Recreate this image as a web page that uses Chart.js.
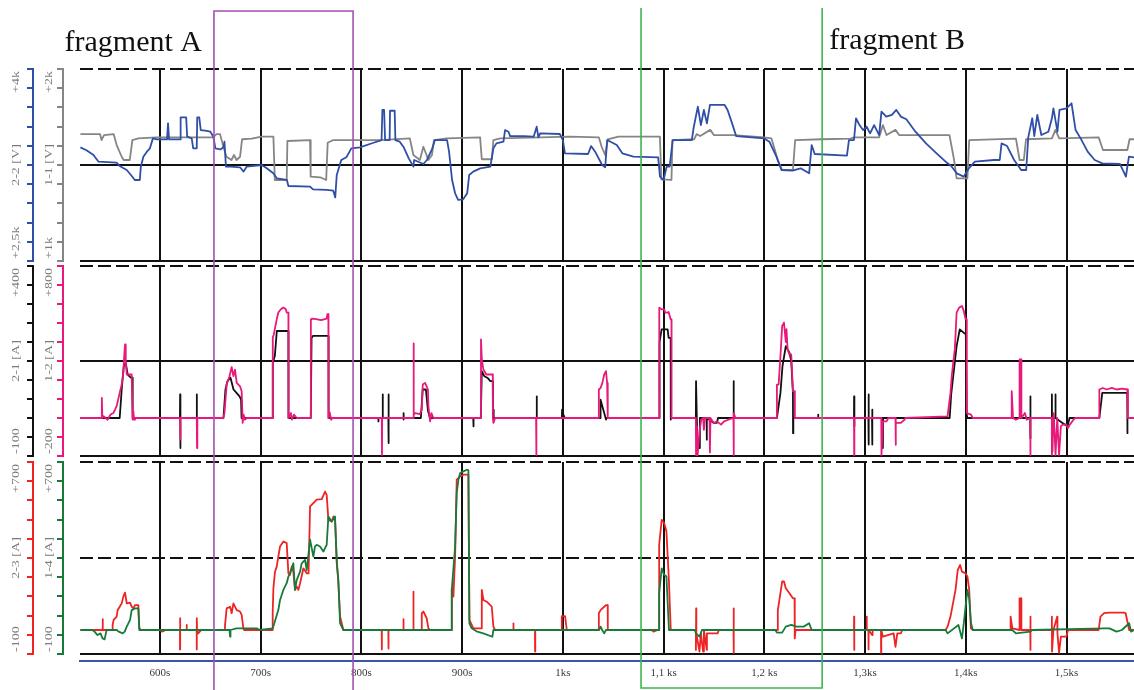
<!DOCTYPE html>
<html lang="en">
<head>
<meta charset="UTF-8">
<title>Fragments A and B</title>
<script src="https://cdn.jsdelivr.net/npm/chart.js@4"></script>
<style>
  body { margin: 0; background: #fff; }
  #wrap { position: relative; width: 1134px; height: 690px; overflow: hidden; }
  canvas { position: absolute; left: 0; }
  #top { top: 64px; }
  #mid { top: 261px; }
  #bot { top: 457px; }
  #over { top: 0; pointer-events: none; }
</style>
</head>
<body>
<div id="wrap">
  <canvas id="top" width="1134" height="202"></canvas>
  <canvas id="mid" width="1134" height="200"></canvas>
  <canvas id="bot" width="1134" height="233"></canvas>
  <canvas id="over" width="1134" height="690"></canvas>
</div>
<script>
// time axis (seconds)
const T_MIN = 520.6, T_MAX = 1567;
const xTicks = [600, 700, 800, 900, 1000, 1100, 1200, 1300, 1400, 1500];
const xLabels = ['600s', '700s', '800s', '900s', '1ks', '1,1 ks', '1,2 ks', '1,3ks', '1,4ks', '1,5ks'];
const fragA = [653.6, 791.7];
const fragB = [1077.6, 1257.4];

// y axis labels [bottom, name, top]
const axisText = {
  top: { yOut: ['+2,5k', '2-2 [V]', '+4k'], yIn: ['+1k', '1-1 [V]', '+2k'] },
  mid: { yOut: ['-100', '2-1 [A]', '+400'], yIn: ['-200', '1-2 [A]', '+800'] },
  bot: { yOut: ['-100', '2-3 [A]', '+700'], yIn: ['-100', '1-4 [A]', '+700'] }
};

// panel 1: 2-2 [V] (blue) and 1-1 [V] (gray)
const blue = [[521,3388],[527,3365],[534,3328],[539,3276],[557,3268],[560,3242],[567,3211],[572,3164],[575,3133],[580,3133],[581,3237],[583.5,3315],[587,3354],[590,3380],[593,3458],[597,3450],[607,3450],[608,3575],[609,3450],[620,3450],[620.5,3622],[626,3622],[627,3471],[631.5,3458],[633,3380],[636.5,3380],[637,3622],[639,3622],[640.5,3523],[645,3518],[650,3510],[653,3471],[655,3380],[660,3372],[663,3388],[664,3432],[665.5,3237],[670,3237],[679.5,3232],[683,3198],[686,3237],[701,3250],[706,3224],[712.5,3185],[716,3146],[726,3133],[727.5,3086],[749,3081],[752,3060],[765.5,3055],[772,3049],[774,2997],[775.5,3172],[780,3289],[785,3310],[790,3380],[798.5,3388],[812,3424],[820,3445],[820.8,3680],[822.5,3680],[823.5,3445],[828,3445],[828.4,3674],[833,3674],[833.7,3445],[838,3432],[842,3388],[847,3302],[851.6,3237],[852.3,3289],[861.5,3258],[865,3289],[870,3372],[873,3445],[885,3445],[887,3354],[890,3133],[893,3029],[896,2977],[901,2982],[905,3029],[907,3172],[911,3198],[918,3224],[928,3237],[931,3380],[934,3419],[941,3432],[942.6,3523],[946,3510],[947.6,3476],[961,3476],[971,3471],[974,3549],[975.7,3466],[977.4,3497],[997,3492],[1000,3445],[1002,3341],[1025,3336],[1028,3398],[1032,3354],[1039,3250],[1042,3232],[1044,3445],[1053.5,3406],[1059,3341],[1070,3315],[1094.6,3310],[1096.4,3159],[1100,3133],[1103,3237],[1106,3237],[1109,3445],[1128,3445],[1130,3549],[1134,3706],[1137,3562],[1140,3680],[1143,3575],[1146,3719],[1160.6,3719],[1163.5,3680],[1168,3575],[1172,3476],[1200,3458],[1205,3432],[1212,3315],[1217,3211],[1228,3206],[1236,3224],[1244.5,3185],[1247,3406],[1250,3336],[1282,3323],[1284,3445],[1289,3445],[1291,3615],[1294.5,3562],[1298,3523],[1301.6,3549],[1305,3497],[1309,3562],[1314,3484],[1316.3,3667],[1321,3628],[1326.6,3641],[1331,3680],[1335.5,3628],[1341,3607],[1350,3510],[1360.5,3419],[1371,3341],[1380,3276],[1385.5,3242],[1391,3185],[1398,3159],[1403,3224],[1409,3276],[1428,3289],[1433.7,3289],[1435.5,3419],[1441,3398],[1448,3289],[1455,3211],[1460,3211],[1462,3466],[1466,3615],[1468,3476],[1471,3641],[1475,3484],[1482,3510],[1485.5,3615],[1487,3693],[1491,3510],[1493,3680],[1500,3693],[1505,3732],[1509,3523],[1514,3458],[1521,3354],[1528,3289],[1535.5,3263],[1553,3258],[1559,3159],[1560.4,3237],[1562,3315],[1567,3310]];
const gray = [[521,1661],[540.5,1661],[542,1630],[544.5,1656],[554,1661],[557,1604],[562,1543],[564,1526],[570,1526],[572.6,1630],[578.5,1639],[596.7,1644],[653,1644],[656,1661],[659.6,1661],[663,1595],[666,1543],[671,1526],[673.5,1552],[676,1526],[679.5,1543],[681.5,1634],[691,1637],[701,1648],[712.6,1648],[714,1422],[725.8,1422],[726.5,1625],[749,1630],[749.6,1439],[759,1436],[765,1422],[766.5,1616],[772,1630],[818.5,1630],[848,1639],[851.6,1552],[858,1526],[861.5,1595],[866.5,1526],[870,1552],[872,1630],[884.7,1639],[917.8,1644],[919.5,1530],[929.5,1530],[931,1630],[937.8,1639],[1007,1648],[1035.7,1644],[1038.5,1595],[1042,1552],[1044.6,1634],[1055,1648],[1096.3,1648],[1097.8,1425],[1107.8,1422],[1108.8,1630],[1130.3,1634],[1132.8,1661],[1136.3,1651],[1146.3,1683],[1149.9,1656],[1169.5,1656],[1199.9,1644],[1207,1639],[1213.4,1526],[1217.7,1474],[1228.4,1474],[1230.6,1630],[1257,1634],[1285.6,1637],[1289,1644],[1314,1644],[1317.7,1708],[1321.3,1656],[1330.2,1683],[1333.8,1656],[1383.8,1656],[1388.4,1526],[1390.9,1430],[1401.6,1430],[1403.4,1630],[1449.8,1637],[1453.4,1526],[1457.6,1526],[1459.8,1634],[1485.5,1639],[1489,1683],[1492.7,1639],[1531.9,1644],[1536.2,1578],[1560.4,1578],[1562.6,1634],[1567,1634]];

// panel 2: 1-2 [A] (pink) and 2-1 [A] (black)
const pink = [[521,0],[542,0],[542.3,106],[542.8,0],[544,9],[548,-9],[551,18],[553.7,26],[557,62],[560,132],[562,176],[563.6,238],[564.5,326],[565.3,387],[566,300],[567,229],[571.9,229],[572.9,-9],[573.6,35],[574.3,-9],[575.2,0],[619.9,0],[620.2,-114],[620.5,0],[636.5,0],[636.8,-158],[637.1,0],[662.9,0],[664,26],[666.2,176],[669,220],[671.2,268],[672.9,220],[674.5,255],[676.2,185],[679.5,167],[681.1,141],[682.1,-26],[683,18],[684.4,-9],[686.1,0],[711.9,0],[712,423],[713,440],[715.9,519],[717.5,555],[720,572],[722.5,581],[725,572],[725.8,555],[727.5,555],[727.6,0],[730,26],[731,-9],[733,18],[735.8,0],[749.7,0],[749.8,519],[751,523],[755,520],[760,515],[765.5,523],[766.2,546],[767.2,546],[767.3,0],[768.5,30],[770,-10],[771,0],[820.2,0],[820.4,-195],[820.6,0],[851.6,0],[851.8,393],[852,18],[853.3,26],[858,20],[859.9,44],[860.9,176],[863.2,185],[866,150],[866.5,62],[868.2,-18],[869.5,26],[871.5,0],[918.5,0],[918.7,414],[919.5,308],[921.1,255],[924,229],[930.4,229],[930.5,0],[931,-26],[932.7,0],[973.4,0],[973.6,-195],[973.8,0],[1035.5,0],[1035.7,150],[1037.4,158],[1039.2,185],[1041,229],[1042.8,247],[1043.9,185],[1044.5,185],[1044.6,0],[1095.6,0],[1095.7,581],[1098,572],[1100.6,572],[1101.7,555],[1104.2,555],[1105,558],[1107,519],[1107.8,519],[1107.9,0],[1132,0],[1132.2,-195],[1133,-44],[1133.8,-195],[1135.6,-70],[1137.4,-9],[1139.2,0],[1140,-62],[1141,0],[1145.6,0],[1146,-181],[1146.5,0],[1149.9,-26],[1153,-18],[1157,-35],[1160,-18],[1164.2,-9],[1169.4,0],[1169.5,-195],[1169.8,26],[1171.3,0],[1212.4,0],[1212.5,176],[1214.2,176],[1216,326],[1217.7,484],[1219.5,502],[1221.3,400],[1222,467],[1223.1,361],[1224.9,335],[1226.7,335],[1228.4,141],[1230.2,141],[1230.3,0],[1289,0],[1289.2,-195],[1289.4,0],[1316.1,0],[1316.3,-195],[1317.7,-18],[1321.3,-18],[1323.1,0],[1330.2,0],[1330.4,-141],[1330.6,-26],[1335.5,-26],[1339.1,-9],[1340,0],[1381.9,9],[1384.8,132],[1386.2,229],[1389.1,361],[1390.9,555],[1393.4,581],[1396.2,590],[1398,564],[1399.8,519],[1400.9,519],[1401,26],[1405.2,18],[1407,0],[1445.5,0],[1445.6,141],[1446.9,0],[1449.8,-9],[1453.3,0],[1453.4,308],[1455.1,308],[1455.2,0],[1458.7,26],[1460.5,-9],[1464,0],[1464.1,-195],[1464.3,0],[1485.4,0],[1485.5,-195],[1487.3,26],[1489.1,-195],[1490.8,0],[1492.6,-195],[1494.4,-44],[1496.2,-35],[1499.8,-35],[1501.5,-53],[1503.3,-35],[1506.9,-9],[1508.7,0],[1532.5,0],[1532.6,150],[1536,158],[1540,150],[1545,158],[1549.7,150],[1555,155],[1560.4,150],[1561,0],[1567,0]];
const black = [[521,0],[560,0],[562,75],[564,136],[566,145],[568,114],[571,106],[572.5,106],[572.9,0],[619.8,0],[620,62],[620.2,-79],[620.4,0],[636.4,0],[636.5,62],[636.7,0],[663,0],[665,75],[667,97],[670,106],[673,75],[676,66],[679,57],[680.5,48],[681,0],[711.8,0],[712,145],[714,163],[716,229],[727.5,229],[727.6,0],[749.7,0],[750.5,211],[752,216],[767.3,216],[767.4,0],[816.7,0],[816.8,-9],[817,0],[821,0],[821.1,62],[821.3,0],[826.7,0],[826.8,62],[827,-66],[827.2,0],[841.6,0],[841.7,13],[841.9,-4],[842,0],[859,0],[860.8,75],[864,75],[866,20],[868,0],[911,0],[911.2,-22],[911.4,0],[918.5,0],[919.5,123],[922,110],[925,106],[928,97],[930.4,97],[930.6,0],[931,22],[931.3,0],[973.8,0],[974,57],[974.2,0],[999,0],[999.2,22],[1000.5,9],[1002,0],[1037,0],[1037.4,48],[1042.8,-4],[1043,0],[1095.6,0],[1096,200],[1098,233],[1104,233],[1105,211],[1107,211],[1107.1,-4],[1107.5,0],[1132,0],[1132.2,97],[1133.5,-66],[1135.6,-79],[1136,0],[1142.7,0],[1142.8,-57],[1143,0],[1149.9,-13],[1153,-13],[1154,0],[1169.4,0],[1169.5,97],[1169.7,0],[1212.5,0],[1216,66],[1218,136],[1221.3,189],[1224.9,172],[1226.7,150],[1228.4,66],[1228.5,-40],[1228.8,0],[1253.3,0],[1253.4,9],[1253.6,0],[1289,0],[1289.1,57],[1289.3,-22],[1289.5,0],[1303.3,0],[1303.4,62],[1303.6,-70],[1303.8,0],[1306.9,0],[1307,22],[1307.2,-70],[1307.4,0],[1317.6,0],[1317.7,-79],[1317.9,0],[1384,0],[1385.5,62],[1390.9,189],[1394,233],[1400,220],[1401,9],[1401.5,0],[1463.9,0],[1464,57],[1464.2,-53],[1464.4,0],[1485.4,0],[1485.5,62],[1485.7,-88],[1486,0],[1488.9,0],[1489,62],[1489.2,0],[1496,-13],[1501,-22],[1503,0],[1532.6,0],[1535.5,66],[1560.3,66],[1560.4,-40],[1560.6,0],[1567,0]];

// panel 3: 2-3 [A] (red) and 1-4 [A] (green)
const red = [[521,0],[543,0],[543.1,45],[543.3,0],[552.9,0],[553,21],[554,42],[557,56],[558,83],[560,97],[562,111],[563.6,139],[565.3,156],[567,111],[570.3,114],[571.9,97],[573.6,90],[575.2,104],[578.5,104],[579.5,7],[580,0],[600,0],[602,-7],[606,0],[619.8,0],[619.9,-81],[620,49],[620.1,0],[626.4,0],[626.5,21],[626.7,0],[636.4,0],[636.5,-81],[636.6,49],[636.8,0],[638,-14],[641,0],[664.5,0],[664.6,21],[666.2,90],[669.6,97],[671.2,70],[672.9,111],[676.2,83],[679.5,77],[681.1,63],[682.8,7],[683.5,0],[711.8,0],[711.9,70],[712.6,174],[714.2,243],[715.9,264],[717.5,306],[719.2,348],[722.5,369],[725.8,362],[727.5,236],[729.1,230],[730.8,264],[732.4,243],[734.1,167],[735.8,181],[737.4,167],[739.1,195],[742.4,257],[745.7,236],[747.5,236],[749,515],[752.3,529],[755.6,543],[760.6,545],[763.9,577],[765.5,563],[767.2,459],[770.5,452],[772.2,473],[773.8,459],[775.5,292],[777.1,195],[778.8,56],[782.1,0],[820.1,0],[820.2,-81],[820.4,0],[826.7,0],[826.8,-77],[827,0],[841.6,0],[841.7,45],[841.9,0],[851.5,0],[851.6,160],[851.8,0],[859.8,0],[859.9,70],[861.5,77],[864.8,49],[866.5,7],[868.2,0],[889.6,0],[889.7,174],[891.3,139],[893,306],[894.6,626],[898,640],[901.3,647],[906.2,647],[907.2,42],[911.2,7],[919.4,7],[919.5,167],[921.1,125],[924.4,118],[929.4,97],[931,14],[932.7,0],[950.8,0],[950.9,28],[951,0],[972.3,0],[972.4,-90],[972.6,0],[998.8,0],[998.9,58],[1002.2,58],[1003.9,0],[1035.6,0],[1035.7,70],[1037.4,83],[1041,97],[1042.8,104],[1044.5,104],[1044.6,0],[1088,0],[1090,-7],[1094,0],[1095.5,0],[1095.6,355],[1098.1,459],[1100.6,445],[1102.8,411],[1105.3,202],[1107.1,0],[1132,0],[1132.1,-83],[1132.3,90],[1132.5,-14],[1135.6,-90],[1137,-14],[1139.2,-90],[1140,0],[1142.8,-83],[1143,-14],[1153.5,-14],[1155,0],[1169.4,0],[1169.5,90],[1169.6,-95],[1169.8,0],[1213.3,0],[1213.4,83],[1217.7,202],[1219.5,202],[1221.3,174],[1224.9,153],[1228.4,132],[1230,132],[1230.2,-35],[1231,0],[1289,0],[1289.1,56],[1289.2,-83],[1289.4,0],[1301.5,0],[1301.6,56],[1301.8,0],[1303.3,0],[1303.4,-81],[1303.6,0],[1307,-21],[1307.5,0],[1315.8,0],[1315.9,-95],[1316.1,0],[1317.7,-28],[1328.4,-14],[1330.2,-70],[1332,-14],[1335.5,-14],[1337,0],[1380,0],[1381.9,14],[1384.8,56],[1387.3,111],[1389.8,167],[1392,250],[1394.4,271],[1396.2,243],[1399.8,236],[1401.6,223],[1403.4,167],[1405,7],[1407,0],[1444.4,0],[1444.5,56],[1446.2,7],[1453.3,0],[1453.4,132],[1455.1,132],[1455.2,0],[1464,0],[1464.1,56],[1464.2,-83],[1464.4,0],[1485.4,0],[1485.5,56],[1485.6,-90],[1487,0],[1490.8,56],[1491,-14],[1492.6,-95],[1494.4,-28],[1499.8,-28],[1501.5,0],[1531.9,0],[1533.7,56],[1537.3,70],[1542.6,72],[1556.9,72],[1558.7,70],[1562.2,0],[1567,0]];
const green = [[521,0],[533,0],[535,-7],[538,-21],[541,-14],[543,-35],[545,-39],[547,0],[557,0],[559,-7],[563,-14],[565,-7],[567,14],[570.3,42],[571.9,83],[575.2,90],[578.5,90],[579.5,0],[669,0],[669.6,-28],[670,0],[676,7],[683,7],[696,7],[699,0],[712,7],[717.5,83],[719.2,125],[722.5,167],[725.8,195],[727.5,223],[729.1,236],[732.4,278],[734.1,167],[735.8,209],[739.1,243],[740.7,278],[744,292],[745.7,250],[749,376],[752.3,306],[753.9,348],[755.6,355],[758.9,348],[762.2,327],[765.5,355],[767.2,473],[770.5,452],[773.8,473],[775.5,278],[777.1,209],[778.8,28],[782.1,0],[889.6,0],[889.7,167],[893,348],[894.6,570],[896.3,626],[898,654],[901.3,661],[904.6,668],[906.2,665],[907.2,28],[909.5,7],[915,-7],[921,-14],[930,-28],[931,0],[1036,0],[1037.4,14],[1039,0],[1041,-14],[1042.8,0],[1095.5,0],[1095.6,153],[1098.1,257],[1100.6,230],[1102.8,223],[1105.3,0],[1131,0],[1132.1,-14],[1135.6,-28],[1138,0],[1211,0],[1212.4,-11],[1217.7,-11],[1221.3,14],[1226.7,21],[1232,14],[1239,14],[1244.5,28],[1247,0],[1380,0],[1381.9,-14],[1392.7,21],[1396.2,-35],[1398,28],[1401.6,167],[1403.4,132],[1405.2,28],[1407,0],[1446.2,0],[1449.8,-14],[1464,-7],[1466,0],[1538,7],[1542.6,7],[1549.7,-7],[1555,0],[1562.2,28],[1564,-7],[1567,0]];

const SERIF = '"Liberation Serif", "DejaVu Serif", serif';
const LABEL_GRAY = '#7b7b7b';

function series(points, color) {
  return {
    data: points.map(([x, y]) => ({ x, y })),
    xAxisID: 'x', yAxisID: color.axis,
    borderColor: color.c, borderWidth: 1.8, borderJoinStyle: 'round',
    pointRadius: 0, tension: 0, fill: false
  };
}

function sideAxis(min, max, color, weight, width) {
  return {
    type: 'linear', position: 'left', min, max, weight,
    ticks: { display: false, count: 11 },
    grid: { drawOnChartArea: false, drawTicks: true, tickLength: 6, tickWidth: 2, lineWidth: 2, color, tickColor: color },
    border: { display: true, color, width: 2 },
    afterFit: s => { s.width = width; }
  };
}

// invisible axis that only draws the panel's horizontal lines
function gridAxis(midDashed) {
  return {
    type: 'linear', position: 'left', min: 0, max: 2, weight: 0,
    ticks: { display: false, count: 3 },
    grid: { color: '#111', lineWidth: 2, drawTicks: false },
    border: {
      display: false,
      dash: ctx => (ctx.tick && (ctx.tick.value === 2 || (midDashed && ctx.tick.value === 1))) ? [13, 5] : []
    },
    afterFit: s => { s.width = 17; }
  };
}

function timeAxis(h) {
  return {
    type: 'linear', position: 'bottom', min: T_MIN, max: T_MAX, weight: 0,
    afterBuildTicks: s => { s.ticks = xTicks.map(v => ({ value: v })); },
    ticks: { display: false },
    grid: { color: '#111', lineWidth: 2, drawTicks: false },
    border: { display: false },
    afterFit: s => { s.height = h; }
  };
}

// rotated, stretched axis labels like the instrument printout
const axisLabels = {
  id: 'axisLabels',
  afterDraw(chart) {
    const texts = axisText[chart.canvas.id];
    if (!texts) return;
    const ctx = chart.ctx;
    const put = (x, y, text, align) => {
      ctx.save();
      ctx.translate(x, y);
      ctx.rotate(-Math.PI / 2);
      ctx.scale(1.4, 1);
      ctx.textAlign = align;
      ctx.fillText(text, 0, 0);
      ctx.restore();
    };
    ctx.save();
    ctx.fillStyle = LABEL_GRAY;
    ctx.font = '10px ' + SERIF;
    ctx.textBaseline = 'middle';
    Object.keys(texts).forEach(id => {
      const s = chart.scales[id];
      const x = s.left + 16;
      put(x, s.bottom - 2, texts[id][0], 'left');
      put(x, (s.top + s.bottom) / 2, texts[id][1], 'center');
      put(x, s.top + 2, texts[id][2], 'right');
    });
    ctx.restore();
  }
};

function panel(id, datasets, scales, padBottom) {
  return new Chart(document.getElementById(id), {
    type: 'line',
    data: { datasets },
    options: {
      responsive: false, animation: false, devicePixelRatio: 1,
      layout: { padding: { top: 5, bottom: padBottom, left: 0, right: 0 } },
      plugins: { legend: { display: false }, tooltip: { enabled: false } },
      scales
    },
    plugins: [axisLabels]
  });
}

const BLUE = '#2f4fa6', GRAY = '#858585', PINK = '#e8197a', BLACK = '#111111', RED = '#ee2424', GREEN = '#187a3a';

panel('top', [
  series(blue, { c: BLUE, axis: 'yOut' }),
  series(gray, { c: GRAY, axis: 'yIn' })
], {
  x: timeAxis(0),
  yOut: sideAxis(2500, 4000, BLUE, 2, 33),
  yIn: sideAxis(1000, 2000, GRAY, 1, 30),
  yGrid: gridAxis(false)
}, 5);

panel('mid', [
  series(pink, { c: PINK, axis: 'yIn' }),
  series(black, { c: BLACK, axis: 'yOut' })
], {
  x: timeAxis(0),
  yOut: sideAxis(-100, 400, BLACK, 2, 33),
  yIn: sideAxis(-200, 800, PINK, 1, 30),
  yGrid: gridAxis(false)
}, 5);

panel('bot', [
  series(green, { c: GREEN, axis: 'yIn' }),
  series(red, { c: RED, axis: 'yOut' })
], {
  x: timeAxis(7),
  x2: {
    type: 'linear', position: 'bottom', min: T_MIN, max: T_MAX, weight: 1,
    afterBuildTicks: s => { s.ticks = xTicks.map(v => ({ value: v })); },
    ticks: { autoSkip: false, maxRotation: 0, padding: 6, color: '#3a3a3a', font: { family: SERIF, size: 11 },
      callback: (v, i) => xLabels[i] },
    grid: { display: false, drawTicks: false },
    border: { display: true, color: '#3a55a8', width: 2 },
    afterFit: s => { s.height = 29; }
  },
  yOut: sideAxis(-100, 700, RED, 2, 33),
  yIn: sideAxis(-100, 700, GREEN, 1, 30),
  yGrid: gridAxis(true)
}, 0);

// fragment frames drawn over all three panels
const fragments = {
  id: 'fragments',
  afterDraw(chart) {
    const ctx = chart.ctx;
    const x = chart.scales.x;
    const a0 = x.getPixelForValue(fragA[0]), a1 = x.getPixelForValue(fragA[1]);
    const b0 = x.getPixelForValue(fragB[0]), b1 = x.getPixelForValue(fragB[1]);
    ctx.save();
    ctx.lineWidth = 1.6;
    ctx.strokeStyle = '#a54fb6';
    ctx.beginPath();
    ctx.moveTo(a0, 690); ctx.lineTo(a0, 11); ctx.lineTo(a1, 11); ctx.lineTo(a1, 690);
    ctx.stroke();
    ctx.strokeStyle = '#3db54e';
    ctx.beginPath();
    ctx.moveTo(b0, 8); ctx.lineTo(b0, 688); ctx.lineTo(b1, 688); ctx.lineTo(b1, 8);
    ctx.stroke();
    ctx.fillStyle = '#111';
    ctx.font = '30px ' + SERIF;
    ctx.textBaseline = 'alphabetic';
    ctx.textAlign = 'right';
    ctx.fillText('fragment A', a0 - 12, 51);
    ctx.textAlign = 'left';
    ctx.fillText('fragment B', b1 + 7, 49);
    ctx.restore();
  }
};

new Chart(document.getElementById('over'), {
  type: 'line',
  data: { datasets: [] },
  options: {
    responsive: false, animation: false, devicePixelRatio: 1,
    layout: { padding: { left: 80, right: 0, top: 0, bottom: 0 } },
    plugins: { legend: { display: false }, tooltip: { enabled: false } },
    scales: {
      x: { type: 'linear', min: T_MIN, max: T_MAX, display: false },
      y: { display: false }
    }
  },
  plugins: [fragments]
});
</script>
</body>
</html>
